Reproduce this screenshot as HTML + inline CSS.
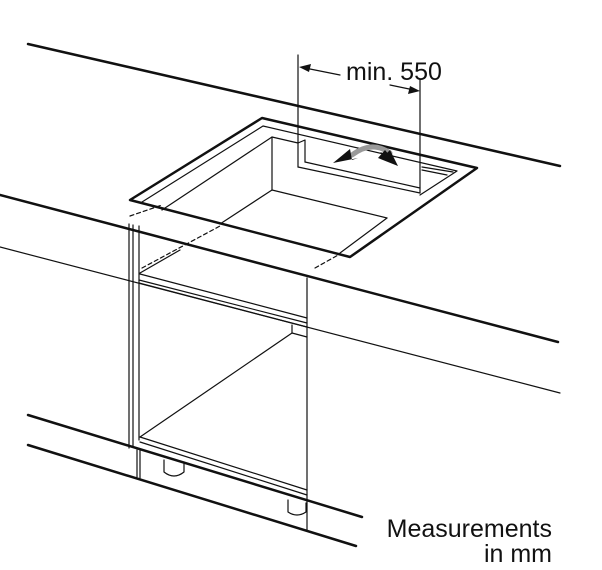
<!DOCTYPE html>
<html><head><style>body{margin:0;background:#fff}svg{display:block}</style></head><body>
<svg width="602" height="570" viewBox="0 0 602 570" xmlns="http://www.w3.org/2000/svg" fill="none" stroke="#111" stroke-linecap="round" stroke-linejoin="round">
<!-- countertop -->
<line x1="28" y1="44" x2="560" y2="166" stroke-width="2.5"/>
<line x1="0" y1="195" x2="558" y2="342" stroke-width="2.5"/>
<line x1="0" y1="247" x2="560" y2="393" stroke-width="1.2"/>
<line x1="28" y1="415" x2="362" y2="517" stroke-width="2.5"/>
<line x1="28" y1="445" x2="356" y2="546" stroke-width="2.5"/>
<!-- cutout -->
<polygon points="130,200 262,118 477,168 350,257" stroke-width="2.5" fill="#fff"/>
<polyline points="142,202 263,126 457,171 420,195" stroke-width="1.2"/>
<polyline points="162,210 272,137 298,143" stroke-width="1.2"/>
<line x1="272" y1="137" x2="272" y2="190" stroke-width="1.2"/>
<line x1="272" y1="190" x2="387" y2="218" stroke-width="1.2"/>
<line x1="272" y1="190" x2="220" y2="224" stroke-width="1.2"/>
<line x1="387" y1="218" x2="340" y2="253" stroke-width="1.2"/>
<polyline points="298,143 305,140 305,162" stroke-width="1.2"/>
<line x1="298" y1="167" x2="420" y2="193" stroke-width="1.2"/>
<line x1="305" y1="162" x2="420" y2="188" stroke-width="1.2"/>
<line x1="422" y1="167" x2="453" y2="172" stroke-width="1.2"/>
<line x1="422" y1="170" x2="447" y2="175" stroke-width="1.2"/>
<!-- dimension -->
<line x1="298" y1="55" x2="298" y2="167" stroke-width="1.2"/>
<line x1="420" y1="80" x2="420" y2="193" stroke-width="1.2"/>
<line x1="340" y1="75" x2="305" y2="68" stroke-width="1.2"/>
<polygon points="299,67 311,64 309,72" fill="#111" stroke="none"/>
<line x1="390" y1="85" x2="414" y2="90" stroke-width="1.2"/>
<polygon points="420,91 408,94 410,86" fill="#111" stroke="none"/>
<text x="346" y="80" font-family="Liberation Sans, sans-serif" font-size="25" fill="#111" stroke="none">min. 550</text>
<!-- curved arrow -->
<path d="M352,155 Q372,140 390,153" stroke="#999" stroke-width="5"/>
<polygon points="333,163 350,149 352,160 358,158" fill="#111" stroke="none"/>
<polygon points="398,166 380,152 386,154 390,150" fill="#111" stroke="none"/>
<polygon points="398,166 378,158 385,150" fill="#111" stroke="none"/>
<!-- dashed -->
<g stroke-width="1.2" stroke-dasharray="4,3">
<line x1="130" y1="216" x2="162" y2="205"/>
<line x1="142" y1="268" x2="220" y2="226"/>
<line x1="315" y1="268" x2="340" y2="254"/>
</g>
<!-- cabinet -->
<g stroke-width="1.2">
<line x1="129" y1="224" x2="129" y2="448"/>
<line x1="133" y1="225" x2="133" y2="447"/>
<line x1="139" y1="226" x2="139" y2="440"/>
<line x1="307" y1="278" x2="307" y2="530"/>
<line x1="140" y1="273" x2="180" y2="250"/>
<polyline points="140,274 307,318"/>
<polyline points="139,280 307,323"/>
<polyline points="139,283 307,327"/>
<line x1="292" y1="325" x2="292" y2="333"/>
<line x1="292" y1="333" x2="307" y2="337"/>
<line x1="292" y1="333" x2="140" y2="437"/>
<line x1="140" y1="437" x2="307" y2="490"/>
<line x1="140" y1="442" x2="307" y2="495"/>
<line x1="133" y1="447" x2="307" y2="500"/>
<line x1="137" y1="450" x2="137" y2="477"/>
<line x1="140" y1="450" x2="140" y2="478"/>
<path d="M164,460 L164,472 Q174,480 184,472 L184,462"/>
<path d="M288,500 L288,512 Q297,518 306,512 L306,503"/>
</g>
<text x="552" y="537" text-anchor="end" font-family="Liberation Sans, sans-serif" font-size="25" fill="#111" stroke="none">Measurements</text>
<text x="552" y="562" text-anchor="end" font-family="Liberation Sans, sans-serif" font-size="25" fill="#111" stroke="none">in mm</text>
</svg>
</body></html>
